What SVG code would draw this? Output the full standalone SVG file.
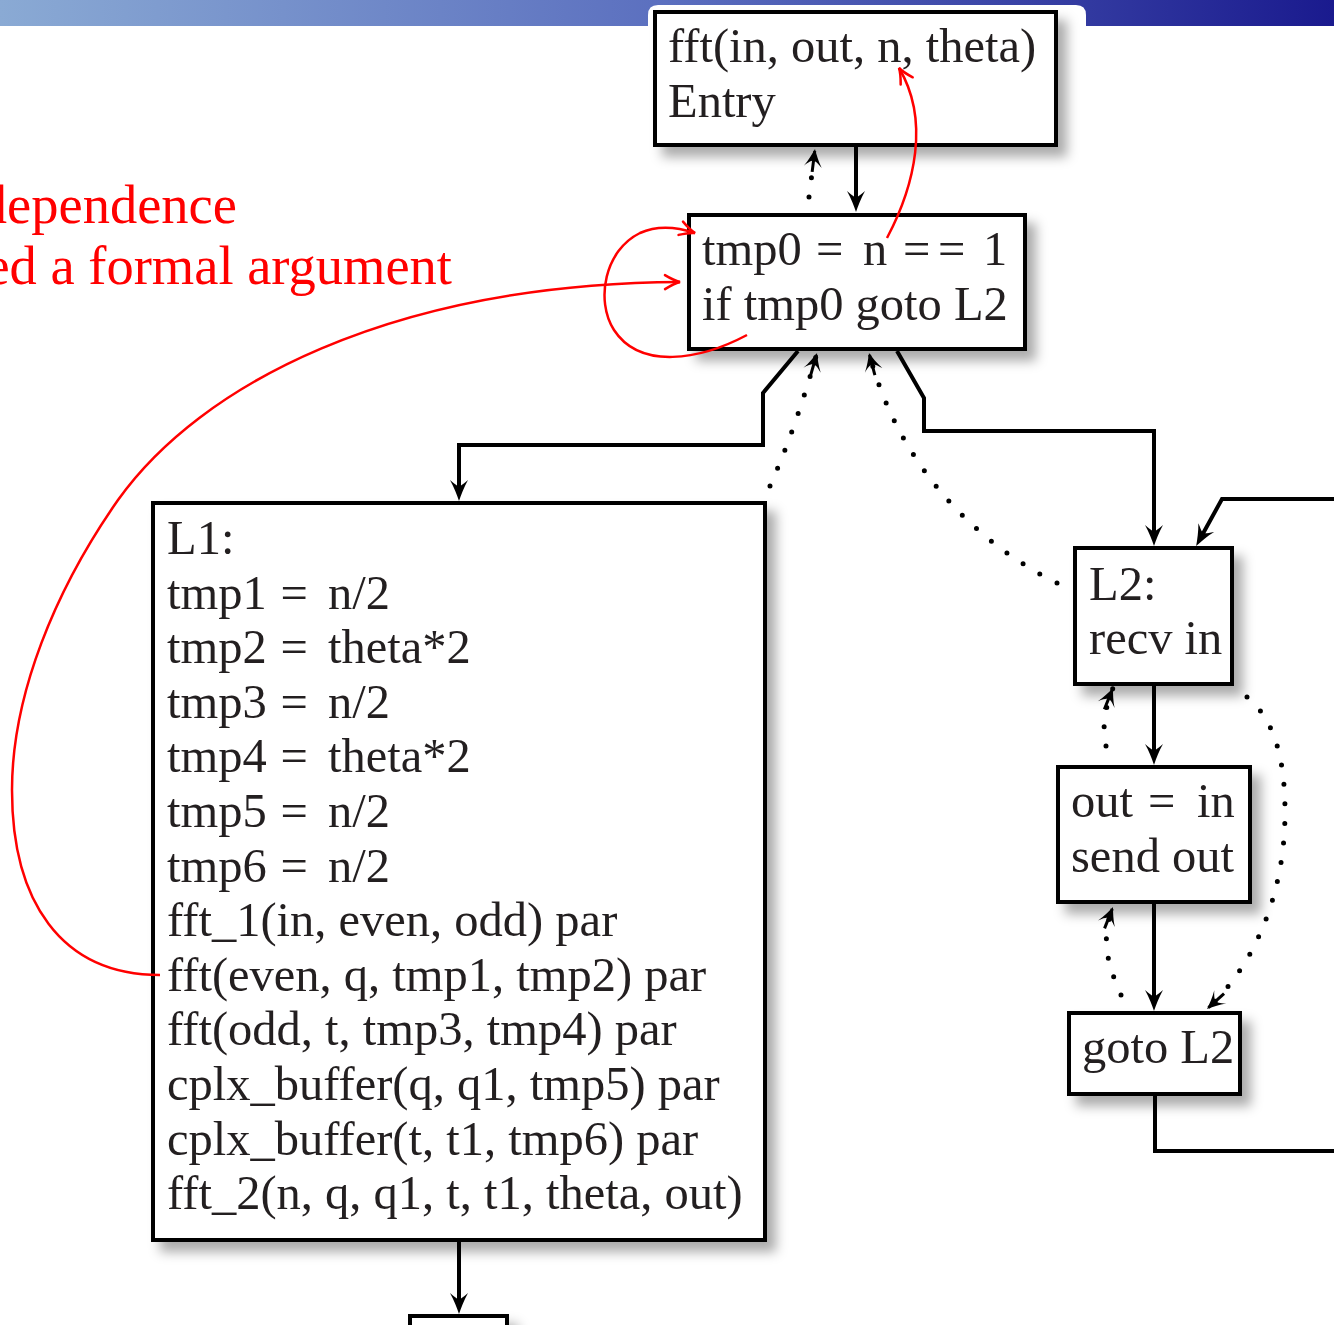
<svg xmlns="http://www.w3.org/2000/svg" width="1334" height="1325" viewBox="0 0 1334 1325">
  <style>
    .box { fill: #ffffff; stroke: #000000; stroke-width: 4; filter: url(#sh); }
    .t { font-family: "Liberation Serif", "Times New Roman", serif; font-size: 48.5px; fill: #231f20; }
    .red { font-family: "Liberation Serif", "Times New Roman", serif; font-size: 54.5px; fill: #ff0000; }
    .edge { fill: none; stroke: #000000; stroke-width: 4; stroke-linejoin: miter; marker-end: url(#ah); }
    .plain { fill: none; stroke: #000000; stroke-width: 4; }
    .dot { fill: none; stroke: #000000; stroke-width: 5; stroke-linecap: round; stroke-dasharray: 0 19.5; marker-end: url(#dh); }
    .rline { fill: none; stroke: #ff0000; stroke-width: 2.5; marker-end: url(#rh); }
  </style>
  <defs>
    <linearGradient id="bar" x1="0" y1="0" x2="1" y2="0">
      <stop offset="0" stop-color="#8aaad4"/>
      <stop offset="0.5" stop-color="#5b6fbf"/>
      <stop offset="1" stop-color="#1a1a8e"/>
    </linearGradient>
    <filter id="sh" x="-20%" y="-20%" width="150%" height="150%">
      <feDropShadow dx="9" dy="10" stdDeviation="6" flood-color="#000000" flood-opacity="0.33"/>
    </filter>
    <marker id="ah" markerUnits="userSpaceOnUse" orient="auto" overflow="visible" markerWidth="1" markerHeight="1" refX="0" refY="0">
      <path d="M 8 0 C 2 -2, -6 -5, -13 -9 C -9 -4, -7 -2, -7 0 C -7 2, -9 4, -13 9 C -6 5, 2 2, 8 0 Z" fill="#000000"/>
    </marker>
    <marker id="dh" markerUnits="userSpaceOnUse" orient="auto" overflow="visible" markerWidth="1" markerHeight="1" refX="0" refY="0">
      <path d="M 0 0 C -5 -2, -12 -5, -18 -9 C -13 -4, -12 -2, -12 0 C -12 2, -13 4, -18 9 C -12 5, -5 2, 0 0 Z" fill="#000000"/>
      <path d="M -2 0 L -23 0" stroke="#000000" stroke-width="3" fill="none"/>
    </marker>
    <marker id="rh" markerUnits="userSpaceOnUse" orient="auto" overflow="visible" markerWidth="1" markerHeight="1" refX="0" refY="0">
      <path d="M -15 -7 Q -6 -1.5, 0 0 Q -6 1.5, -15 7" fill="none" stroke="#ff0000" stroke-width="2.5" stroke-linecap="round"/>
    </marker>
  </defs>

  <rect x="0" y="0" width="1334" height="1325" fill="#ffffff"/>
  <rect x="0" y="0" width="1334" height="26" fill="url(#bar)"/>
  <path d="M 648 30 L 648 15 Q 648 5, 658 5 L 1076 5 Q 1086 5, 1086 15 L 1086 30 Z" fill="#ffffff"/>

  <g id="connectors">
    <path class="edge" d="M 856 147 L 856 204"/>
    <path class="edge" d="M 798 351 L 763 393 L 763 445 L 459 445 L 459 493"/>
    <path class="edge" d="M 897 351 L 924 398 L 924 431 L 1154 431 L 1154 538"/>
    <path class="edge" d="M 1154 686 L 1154 757"/>
    <path class="edge" d="M 1154 904 L 1154 1003"/>
    <path class="edge" d="M 459 1242 L 459 1306"/>
    <path class="edge" d="M 1340 499 L 1222 499 L 1200 539"/>
    <path class="plain" d="M 1155 1096 L 1155 1151 L 1340 1151"/>

    <path class="dot" d="M 809 197 L 815 149"/>
    <path class="dot" d="M 770 486 Q 795 430, 817 353"/>
    <path class="dot" d="M 1057 583 C 980 545, 900 470, 869 353"/>
    <path class="dot" d="M 1106 746 Q 1100 720, 1113 688"/>
    <path class="dot" d="M 1121 995 C 1108 965, 1100 940, 1113 907"/>
    <path class="dot" d="M 1247 697 C 1275 720, 1285 760, 1285 812 C 1285 900, 1250 970, 1207 1009"/>
  </g>

  <g id="node-entry">
    <rect class="box" x="655" y="12" width="401" height="133"/>
    <text class="t" x="668" y="62">fft(in, out, n, theta)</text>
    <text class="t" x="668" y="117">Entry</text>
  </g>

  <g id="node-tmp0">
    <rect class="box" x="689" y="215" width="336" height="134"/>
    <text class="t" y="265"><tspan x="702">tmp0</tspan><tspan x="816">=</tspan><tspan x="863">n</tspan><tspan x="903">=</tspan><tspan x="938">=</tspan><tspan x="983">1</tspan></text>
    <text class="t" x="702" y="320">if tmp0 goto L2</text>
  </g>

  <g id="node-L1">
    <rect class="box" x="153" y="503" width="612" height="737"/>
    <text class="t" x="167" y="554">L1:</text>
    <text class="t" y="608.6"><tspan x="167">tmp1</tspan><tspan x="280.5">=</tspan><tspan x="328">n/2</tspan></text>
    <text class="t" y="663.2"><tspan x="167">tmp2</tspan><tspan x="280.5">=</tspan><tspan x="328">theta*2</tspan></text>
    <text class="t" y="717.8"><tspan x="167">tmp3</tspan><tspan x="280.5">=</tspan><tspan x="328">n/2</tspan></text>
    <text class="t" y="772.4"><tspan x="167">tmp4</tspan><tspan x="280.5">=</tspan><tspan x="328">theta*2</tspan></text>
    <text class="t" y="827"><tspan x="167">tmp5</tspan><tspan x="280.5">=</tspan><tspan x="328">n/2</tspan></text>
    <text class="t" y="881.6"><tspan x="167">tmp6</tspan><tspan x="280.5">=</tspan><tspan x="328">n/2</tspan></text>
    <text class="t" x="167" y="936.2">fft_1(in, even, odd) par</text>
    <text class="t" x="167" y="990.8">fft(even, q, tmp1, tmp2) par</text>
    <text class="t" x="167" y="1045.4">fft(odd, t, tmp3, tmp4) par</text>
    <text class="t" x="167" y="1100">cplx_buffer(q, q1, tmp5) par</text>
    <text class="t" x="167" y="1154.6">cplx_buffer(t, t1, tmp6) par</text>
    <text class="t" x="167" y="1209.2">fft_2(n, q, q1, t, t1, theta, out)</text>
  </g>

  <g id="node-L2">
    <rect class="box" x="1075" y="548" width="157" height="136"/>
    <text class="t" x="1089" y="600">L2:</text>
    <text class="t" x="1089" y="654">recv in</text>
  </g>

  <g id="node-out">
    <rect class="box" x="1058" y="767" width="192" height="135"/>
    <text class="t" y="817"><tspan x="1071">out</tspan><tspan x="1148">=</tspan><tspan x="1197">in</tspan></text>
    <text class="t" x="1071" y="872">send out</text>
  </g>

  <g id="node-goto">
    <rect class="box" x="1069" y="1013" width="171" height="81"/>
    <text class="t" x="1082" y="1063">goto L2</text>
  </g>

  <g id="node-bottom">
    <rect class="box" x="410" y="1316" width="97" height="60"/>
  </g>

  <g id="annotation">
    <text class="red" x="237" y="223" text-anchor="end">dependence</text>
    <text class="red" x="452" y="284" text-anchor="end">ed a formal argument</text>
    <path class="rline" d="M 887 238 C 915 185, 930 120, 899 68"/>
    <path class="rline" d="M 747 335 C 700 360, 640 370, 614 330 C 595 300, 605 250, 640 233 C 660 224, 680 228, 695 233"/>
    <path class="rline" d="M 160 975 C 60 975, 12 900, 12 790 C 12 695, 55 590, 118 500 C 200 385, 390 284, 680 282"/>
  </g>
</svg>
